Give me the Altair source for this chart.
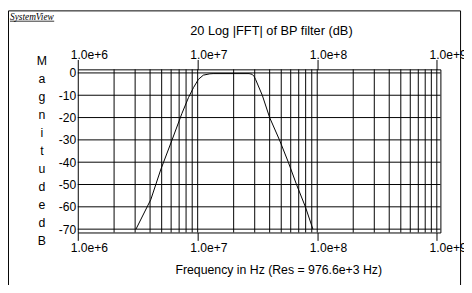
import altair as alt
import pandas as pd

# ---- data ----
freq_hz = [3.05e6, 4.06e6, 4.90e6, 6.11e6, 7.38e6, 8.39e6, 9.23e6, 1.014e7, 1.115e7,
           1.263e7, 1.346e7, 2.69e7, 2.85e7, 2.96e7, 3.05e7, 3.47e7, 4.0e7, 4.83e7,
           5.73e7, 6.71e7, 7.96e7, 9.2e7]
mag_db = [-70, -56.7, -43.5, -30, -18.2, -11, -6.6, -2.9, -1.0,
          -0.4, -0.3, -0.3, -0.6, -1.5, -2.9, -10, -20, -30,
          -40, -50, -60, -70]

grid_freqs = [2e6, 3e6, 4e6, 5e6, 6e6, 7e6, 8e6, 9e6, 1e7,
              2e7, 3e7, 4e7, 5e7, 6e7, 7e7, 8e7, 9e7, 1e8,
              2e8, 3e8, 4e8, 5e8, 6e8, 7e8, 8e8, 9e8, 1e9]
decades = [1e6, 1e7, 1e8, 1e9]
db_ticks = [0, -10, -20, -30, -40, -50, -60, -70]
y_title_letters = ["M", "a", "g", "n", "i", "t", "u", "d", "e", "", "d", "B"]
chart_title = "20 Log |FFT| of BP filter (dB)"
x_title = "Frequency in Hz (Res = 976.6e+3 Hz)"
corner_label = "SystemView"

FONT = "Liberation Sans"
W, H = 369, 166

xscale = alt.Scale(type="log", domain=[0.994e6, 1.072e9], nice=False)
yscale = alt.Scale(domain=[-71.5, 1.6], nice=False, zero=False)

curve = pd.DataFrame({"f": freq_hz, "db": mag_db})
vgrid = pd.DataFrame({"f": grid_freqs})
hgrid = pd.DataFrame({"db": db_ticks})
one = pd.DataFrame({"k": [0]})

yaxis = alt.Axis(values=db_ticks, ticks=False, domain=False, grid=False,
                 labelPadding=2, labelExpr="'' + datum.value",
                 labelFont=FONT, labelFontSize=12.3, labelColor="black",
                 labelBaseline="middle",
                 title=y_title_letters, titleAngle=0, titleFont=FONT,
                 titleFontSize=12.5, titleFontWeight="normal", titleColor="black",
                 titleLineHeight=18.25, titleAlign="center",
                 titleBaseline="alphabetic", titleX=-37, titleY=-4.5)

xaxis_bottom = alt.Axis(orient="bottom", values=decades, format=".1e",
                        labelAlign="left", labelOffset=-8, labelBaseline="alphabetic",
                        labelPadding=11.3, labelFlush=False, labelOverlap=False,
                        labelFont=FONT, labelFontSize=12.3, labelColor="black",
                        tickSize=8, tickColor="black", tickWidth=1,
                        domain=False, grid=False,
                        title=x_title, titleFont=FONT, titleFontSize=12.5,
                        titleFontWeight="normal", titleColor="black",
                        titleAlign="center", titleBaseline="alphabetic",
                        titleX=204, titleY=42)

xaxis_top = alt.Axis(orient="top", values=decades, format=".1e",
                     labelAlign="left", labelOffset=-8, labelBaseline="alphabetic",
                     labelPadding=1.3, labelFlush=False, labelOverlap=False,
                     labelFont=FONT, labelFontSize=12.3, labelColor="black",
                     tickSize=10, tickColor="black", tickWidth=1,
                     domain=False, grid=False, title=None)

vrules = alt.Chart(vgrid).mark_rule(color="black", strokeWidth=1).encode(
    x=alt.X("f:Q", scale=xscale, axis=xaxis_bottom)
)

hrules = alt.Chart(hgrid).mark_rule(color="black", strokeWidth=1).encode(
    y=alt.Y("db:Q", scale=yscale, axis=yaxis)
)

line = alt.Chart(curve).mark_line(color="black", strokeWidth=1, clip=True).encode(
    x=alt.X("f:Q", scale=xscale, axis=xaxis_top),
    y=alt.Y("db:Q", scale=yscale, axis=yaxis),
)

frame = alt.Chart(one).mark_rect(fillOpacity=0, stroke="black", strokeWidth=1).encode(
    x=alt.value(-70.5), x2=alt.value(389.5), y=alt.value(-59.5), y2=alt.value(300)
)

title_txt = alt.Chart(one).mark_text(
    text=chart_title, font=FONT, fontSize=13, align="center",
    baseline="alphabetic", color="black"
).encode(x=alt.value(197), y=alt.value(-34.7))

corner_txt = alt.Chart(one).mark_text(
    text=corner_label, font="Liberation Serif", fontStyle="italic", fontSize=9.5,
    align="left", baseline="alphabetic", color="black"
).encode(x=alt.value(-69), y=alt.value(-50.5))

corner_ul = alt.Chart(one).mark_rule(color="black", strokeWidth=0.8).encode(
    x=alt.value(-69), x2=alt.value(-24), y=alt.value(-49), y2=alt.value(-49)
)

chart = alt.layer(
    vrules, hrules, line, frame, title_txt, corner_txt, corner_ul
).resolve_axis(x="independent").properties(
    width=W, height=H,
    autosize=alt.AutoSizeParams(type="none"),
    padding={"left": 71, "top": 60, "right": 24, "bottom": 51},
    background="white",
).configure_view(stroke="black", strokeWidth=1)

chart.save("out.html", embed_options={"renderer": "svg", "actions": False})
